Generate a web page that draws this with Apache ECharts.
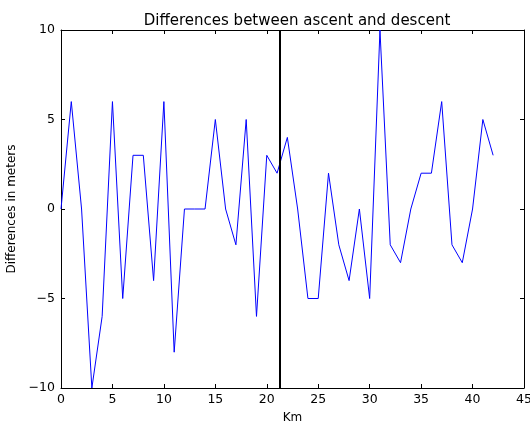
<!DOCTYPE html>
<html>
<head>
<meta charset="utf-8">
<script src="https://cdn.jsdelivr.net/npm/echarts@6/dist/echarts.min.js"></script>
<style>
  html, body { margin: 0; padding: 0; background: #fff; }
  #chart { width: 530px; height: 423px; }
</style>
</head>
<body>
<div id="chart"></div>
<script>
// km marks and the ascent/descent difference at each one
var km = [0, 1, 2, 3, 4, 5, 6, 7, 8, 9, 10, 11, 12, 13, 14, 15, 16, 17, 18, 19, 20,
  21, 22, 23, 24, 25, 26, 27, 28, 29, 30, 31, 32, 33, 34, 35, 36, 37, 38, 39, 40, 41, 42];
var diffs = [0, 6, 0, -10, -6, 6, -5, 3, 3, -4, 6, -8, 0, 0, 0, 5, 0, -2, 5, -6, 3,
  2, 4, 0, -5, -5, 2, -2, -4, 0, -5, 10, -2, -3, 0, 2, 2, 6, -2, -3, 0, 5, 3];
var halfway = 21.3;
var xTicks = [0, 45, 5];
var yTicks = [-10, 10, 5];

var font = "DejaVu Sans";
var minus = function (v) { return String(v).replace("-", "\u2212"); };

function frameAxis(pos, ticks, show) {
  return {
    type: "value",
    position: pos,
    min: ticks[0],
    max: ticks[1],
    interval: ticks[2],
    axisLine: { show: true, onZero: false, lineStyle: { color: "#000", width: 1 } },
    axisTick: { show: true, inside: true, length: 4, lineStyle: { color: "#000" } },
    axisLabel: { show: show, color: "#000", fontFamily: font, fontSize: 12.5, formatter: minus },
    splitLine: { show: false },
  };
}

var chart = echarts.init(document.getElementById("chart"));
var xBottom = frameAxis("bottom", xTicks, true);
xBottom.name = "Km";
xBottom.nameLocation = "middle";
xBottom.nameGap = 24;
xBottom.nameTextStyle = { color: "#000", fontFamily: font, fontSize: 12 };
xBottom.axisLabel.margin = 5;
var yLeft = frameAxis("left", yTicks, true);
yLeft.name = "Differences in meters";
yLeft.nameLocation = "middle";
yLeft.nameGap = 36;
yLeft.nameTextStyle = { color: "#000", fontFamily: font, fontSize: 12 };
yLeft.axisLabel.margin = 6;

chart.setOption({
  animation: false,
  title: {
    text: "Differences between ascent and descent",
    left: 292,
    textAlign: "center",
    top: 9,
    textStyle: { color: "#000", fontFamily: font, fontSize: 15, fontWeight: "normal" },
  },
  grid: { left: 61, right: 6, top: 30, bottom: 35, outerBoundsMode: "none", containLabel: false },
  xAxis: [xBottom, frameAxis("top", xTicks, false)],
  yAxis: [yLeft, frameAxis("right", yTicks, false)],
  series: [
    {
      type: "line",
      data: km.map(function (k, i) { return [k, diffs[i]]; }),
      showSymbol: false,
      lineStyle: { color: "#0000ff", width: 1 },
      markLine: {
        silent: true,
        symbol: "none",
        label: { show: false },
        lineStyle: { color: "#000", width: 2, type: "solid" },
        data: [{ xAxis: halfway }],
      },
    },
  ],
});
</script>
</body>
</html>
